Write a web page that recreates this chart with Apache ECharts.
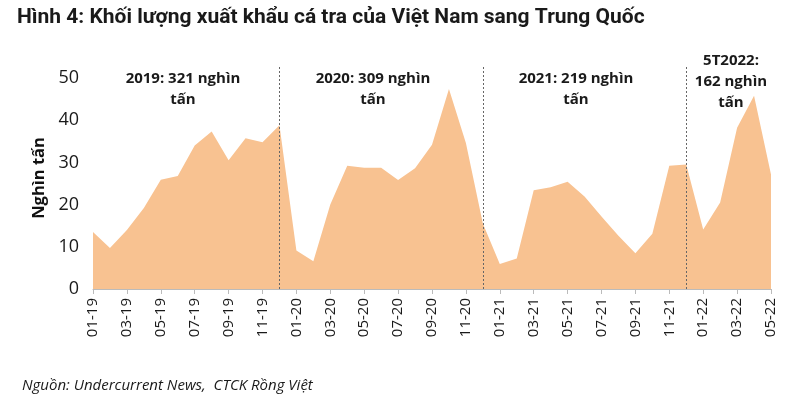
<!DOCTYPE html>
<html><head><meta charset="utf-8">
<script src="https://cdn.jsdelivr.net/npm/echarts@6/dist/echarts.min.js"></script>
<style>html,body{margin:0;padding:0;background:#fff}#c{width:800px;height:412px}</style>
</head><body><div id="c"></div>
<script>
const months = ['01-19','02-19','03-19','04-19','05-19','06-19','07-19','08-19','09-19','10-19','11-19','12-19',
'01-20','02-20','03-20','04-20','05-20','06-20','07-20','08-20','09-20','10-20','11-20','12-20',
'01-21','02-21','03-21','04-21','05-21','06-21','07-21','08-21','09-21','10-21','11-21','12-21',
'01-22','02-22','03-22','04-22','05-22'];
const volume = [13.5,9.7,14.0,19.2,25.9,26.8,34.0,37.3,30.5,35.7,34.8,38.8,
9.1,6.6,20.0,29.2,28.7,28.7,25.8,28.6,34.2,47.4,34.6,15.5,
5.9,7.2,23.4,24.1,25.4,21.9,17.2,12.6,8.5,13.1,29.2,29.5,
14.1,20.5,38.2,45.8,27.1];
const dividers = ['12-19','12-20','12-21'];
const yearNotes = [['2019: 321 nghìn','tấn'],['2020: 309 nghìn','tấn'],['2021: 219 nghìn','tấn'],['5T2022:','162 nghìn','tấn']];
const yTicks = [0,10,20,30,40,50];

const chart = echarts.init(document.getElementById('c'));
const notePos = [[183,71],[373,71],[576,71],[731,53]];
const titles = [{text:'Hình 4: Khối lượng xuất khẩu cá tra của Việt Nam sang Trung Quốc', left:12, top:2,
    textStyle:{fontFamily:'Liberation Sans Narrow, Roboto, sans-serif', fontWeight:'bold', fontSize:21, color:'#1a1a1a'}}];
yearNotes.forEach((lines, i) => {
  lines.forEach((ln, j) => {
    titles.push({text:ln, left:notePos[i][0], top:notePos[i][1] + j*21, textAlign:'center', padding:0,
      textStyle:{fontFamily:'Open Sans', fontWeight:'bold', fontSize:15, color:'#1a1a1a'}});
  });
});
titles.push({text:'Nguồn: Undercurrent News,  CTCK Rồng Việt', left:22, top:378, padding:0,
  textStyle:{fontFamily:'Liberation Sans Narrow, Open Sans', fontStyle:'italic', fontWeight:'normal', fontSize:15, color:'#1a1a1a'}});

chart.setOption({
  animation:false,
  title:titles,
  grid:{left:93, right:29, top:67, bottom:123},
  xAxis:{type:'category', data:months, boundaryGap:false,
    axisLine:{lineStyle:{color:'#bbb'}},
    axisTick:{interval:1, length:5, lineStyle:{color:'#bbb'}},
    axisLabel:{interval:1, rotate:90, margin:9, fontFamily:'Open Sans', fontSize:15, color:'#1a1a1a'}},
  yAxis:{type:'value', min:0, max:52.6, interval:10,
    name:'Nghìn tấn', nameLocation:'middle', nameGap:42, nameRotate:90,
    nameTextStyle:{fontFamily:'Open Sans', fontWeight:'bold', fontSize:16.5, color:'#111'},
    axisLine:{show:false}, axisTick:{show:false}, splitLine:{show:false},
    axisLabel:{margin:14, fontFamily:'Open Sans', fontSize:18, color:'#1a1a1a',
      formatter:v => yTicks.includes(v) ? String(v) : ''}},
  series:[{type:'line', data:volume, symbol:'none', lineStyle:{width:0},
    areaStyle:{color:'#F8C291', opacity:1},
    markLine:{silent:true, symbol:'none', label:{show:false},
      lineStyle:{type:[2,2], color:'#666', width:1},
      data: dividers.map(d => [{coord:[d,0]},{coord:[d,52.6]}])}}]
});
</script></body></html>
